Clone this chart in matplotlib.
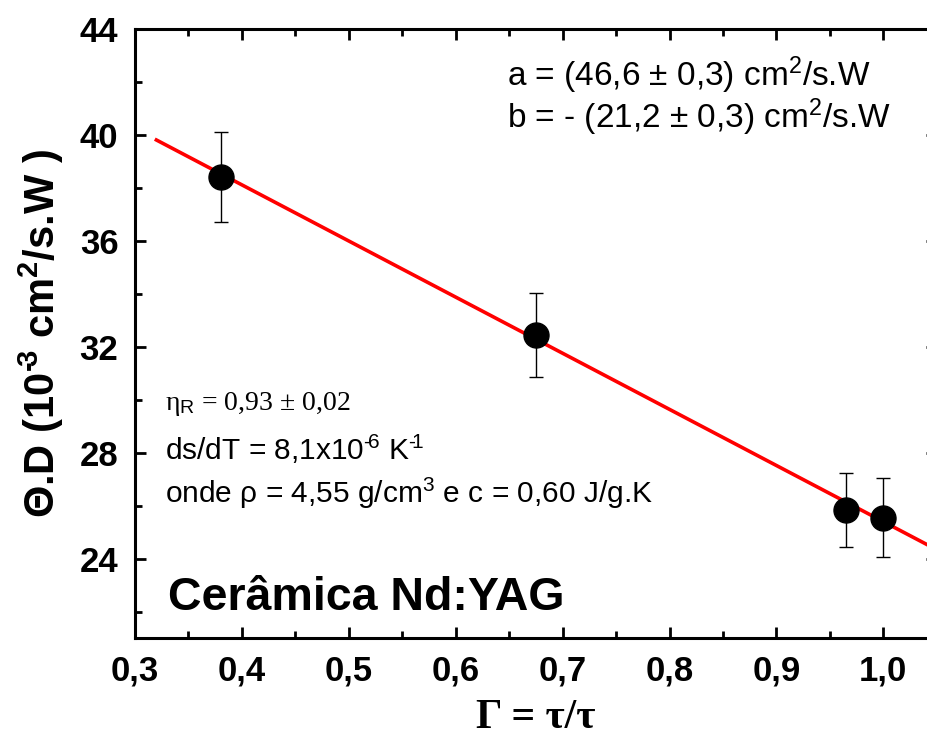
import matplotlib
matplotlib.use("Agg")
import matplotlib.pyplot as plt
from matplotlib.ticker import MultipleLocator, FuncFormatter

# measured points (Gamma, Theta.D) with error bars
gamma = [0.38, 0.675, 0.965, 1.0]
theta_d = [38.4, 32.45, 25.85, 25.55]
theta_err = [1.7, 1.6, 1.4, 1.5]

# linear fit  Theta.D = a + b*Gamma
fit_a = 46.6
fit_b = -21.2
fit_x = [0.32, 1.05]

plt.rcParams['font.family'] = ['Liberation Sans', 'DejaVu Sans']
plt.rcParams['mathtext.fontset'] = 'custom'
plt.rcParams['mathtext.rm'] = 'Liberation Sans'
plt.rcParams['mathtext.sf'] = 'Liberation Sans'
plt.rcParams['mathtext.bf'] = 'Liberation Sans:bold'
plt.rcParams['mathtext.default'] = 'regular'

fig = plt.figure(figsize=(9.28, 7.49), dpi=100)
ax = fig.add_axes([0.1455, 0.148, 0.864, 0.813])

fit_y = [fit_a + fit_b * x for x in fit_x]
ax.plot(fit_x, fit_y, color='red', lw=2.6, zorder=2)
ax.errorbar(gamma, theta_d, yerr=theta_err, fmt='o', color='black', ms=18,
            ecolor='black', elinewidth=1, capsize=5, capthick=1, zorder=3)

ax.set_xlim(0.3, 1.05)
ax.set_ylim(21, 44)
ax.xaxis.set_major_locator(MultipleLocator(0.1))
ax.xaxis.set_minor_locator(MultipleLocator(0.05))
ax.yaxis.set_major_locator(MultipleLocator(4))
ax.yaxis.set_minor_locator(MultipleLocator(2))
ax.xaxis.set_major_formatter(FuncFormatter(lambda v, p: f"{v:.1f}".replace('.', ',')))
ax.yaxis.set_major_formatter(FuncFormatter(lambda v, p: f"{v:.0f}"))

for s in ax.spines.values():
    s.set_linewidth(2.2)
ax.tick_params(which='both', direction='in', top=True, right=True, width=2)
ax.tick_params(which='major', length=8, labelsize=25, pad=12)
ax.tick_params(which='minor', length=5)
for lab in ax.get_xticklabels() + ax.get_yticklabels():
    lab.set_fontweight('bold')

ax.set_ylabel("Θ.D (10$^{\u2010\\!3}$ cm$^{2}$/s.W )", fontsize=30, fontweight='bold', labelpad=10)
ax.set_xlabel("Γ = τ/τ", fontsize=30, fontweight='bold', family='Liberation Serif', labelpad=8)

ax.text(0.648, 41.87, "a = (46,6 ± 0,3) cm$^2$/s.W", fontsize=24)
ax.text(0.648, 40.27, "b = - (21,2 ± 0,3) cm$^2$/s.W", fontsize=24)
ax.text(0.328, 29.6, "η$_{\\mathsf{R}}$ = 0,93 ± 0,02", fontsize=20, family='Liberation Serif')
ax.text(0.328, 27.73, "ds/dT = 8,1x10$^{\u2010\\!6}$ K$^{\u2010\\!1}$", fontsize=21.5)
ax.text(0.328, 26.1, "onde ρ = 4,55 g/cm$^3$ e c = 0,60 J/g.K", fontsize=21.5)
ax.text(0.331, 22.06, "Cerâmica Nd:YAG", fontsize=33.5, fontweight='bold')

fig.savefig("out.png", dpi=100)
